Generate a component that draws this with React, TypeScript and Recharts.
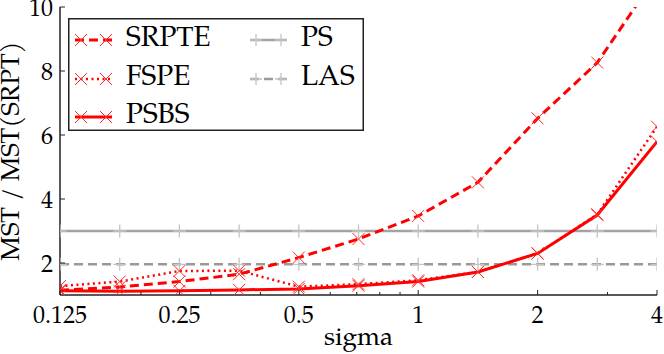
import React from 'react';
import { LineChart, Line, XAxis, YAxis, Legend } from 'recharts';

const sigma = [0.125, 0.1768, 0.25, 0.3536, 0.5, 0.7071, 1, 1.4142, 2, 2.8284, 4];
const srpte = [1.15, 1.25, 1.42, 1.65, 2.17, 2.75, 3.47, 4.52, 6.52, 8.26, 11.0];
const fspe = [1.28, 1.42, 1.75, 1.76, 1.26, 1.34, 1.46, 1.72, 2.3, 3.52, 6.26];
const psbs = [1.13, 1.12, 1.13, 1.16, 1.19, 1.29, 1.42, 1.72, 2.3, 3.5, 5.79];
const ps = [3.0, 3.0, 3.0, 3.0, 3.0, 3.0, 3.0, 3.0, 3.0, 3.0, 3.0];
const las = [1.96, 1.96, 1.96, 1.96, 1.96, 1.96, 1.96, 1.96, 1.96, 1.96, 1.96];

const xMajorTicks = [0.125, 0.25, 0.5, 1, 2, 4];
const xTickLabels = ['0.125', '0.25', '0.5', '1', '2', '4'];
const xMinorTicks = [0.2, 0.3, 0.4, 0.6, 0.7, 0.8, 0.9, 3];
const yTicks = [2, 4, 6, 8, 10];

const FONT = '"TeX Gyre Pagella", "Liberation Serif", serif';
const RED = '#ff0000';
const RED_MARK = '#ff2a2a';
const PS_GREY = '#a3a3a3';
const LAS_GREY = '#999999';
const PLUS_GREY = '#c4c4c4';
const FRAME = '#222222';

const textStyle = (size: number) => ({ fontFamily: FONT, fontSize: size });

const data = sigma.map((s, i) => ({
  sigma: s,
  srpte: srpte[i],
  fspe: fspe[i],
  psbs: psbs[i],
  ps: ps[i],
  las: las[i],
}));

const allXTicks = [...xMajorTicks, ...xMinorTicks].sort((a, b) => a - b);

const xPath = (cx: number, cy: number, s: number) =>
  `M${cx - s},${cy - s}L${cx + s},${cy + s}M${cx - s},${cy + s}L${cx + s},${cy - s}`;
const plusPath = (cx: number, cy: number, s: number) =>
  `M${cx - s},${cy}L${cx + s},${cy}M${cx},${cy - s}L${cx},${cy + s}`;

const makeDot = (kind: 'x' | 'plus', color: string) => (props: any) => {
  const { cx, cy, index } = props;
  if (cx == null || cy == null) return <g key={`e${index}`} />;
  const d = kind === 'x' ? xPath(cx, cy, 6) : plusPath(cx, cy, 6.5);
  return (
    <path
      key={`d${index}`}
      d={d}
      stroke={color}
      strokeWidth={kind === 'x' ? 1 : 1.3}
      fill="none"
    />
  );
};

const BottomTick = (props: any) => {
  const { x, y, payload } = props;
  const idx = xMajorTicks.indexOf(payload.value);
  const major = idx >= 0;
  return (
    <g>
      <line x1={x} y1={y} x2={x} y2={y - (major ? 5 : 3)} stroke={FRAME} strokeWidth={1} />
      {major && (
        <text x={x} y={y + 28} textAnchor="middle" style={textStyle(24)} fill="#000">
          {xTickLabels[idx]}
        </text>
      )}
    </g>
  );
};

const TopTick = (props: any) => {
  const { x, y, payload } = props;
  const major = xMajorTicks.indexOf(payload.value) >= 0;
  return (
    <g>
      <line x1={x} y1={y} x2={x} y2={y + (major ? 5 : 3)} stroke={FRAME} strokeWidth={1} />
    </g>
  );
};

const LeftTick = (props: any) => {
  const { x, y, payload } = props;
  return (
    <g>
      <line x1={x} y1={y} x2={x + 5} y2={y} stroke={FRAME} strokeWidth={1} />
      <text x={x - 7} y={y + 9} textAnchor="end" style={textStyle(24)} fill="#000">
        {String(payload.value)}
      </text>
    </g>
  );
};

const RightTick = (props: any) => {
  const { x, y } = props;
  return (
    <g>
      <line x1={x} y1={y} x2={x - 5} y2={y} stroke={FRAME} strokeWidth={1} />
    </g>
  );
};

const legendItems = [
  { name: 'SRPTE', color: RED, dash: '9 5', width: 3, kind: 'x' as const, col: 0, row: 0 },
  { name: 'FSPE', color: RED, dash: '2 3.5', width: 2.5, kind: 'x' as const, col: 0, row: 1 },
  { name: 'PSBS', color: RED, dash: undefined, width: 3, kind: 'x' as const, col: 0, row: 2 },
  { name: 'PS', color: PS_GREY, dash: undefined, width: 2.5, kind: 'plus' as const, col: 1, row: 0 },
  { name: 'LAS', color: LAS_GREY, dash: '9 5', width: 2.5, kind: 'plus' as const, col: 1, row: 1 },
];

const LegendBox = () => {
  const W = 296;
  const H = 113;
  const rowY = [22, 61, 99];
  const colX = [7, 182];
  return (
    <svg width={W} height={H} style={{ display: 'block' }}>
      <rect x={0.75} y={0.75} width={W - 1.5} height={H - 1.5} fill="#fff" stroke={FRAME} strokeWidth={1.5} />
      {legendItems.map((it) => {
        const x0 = colX[it.col];
        const y = rowY[it.row];
        const markColor = it.kind === 'x' ? RED_MARK : PLUS_GREY;
        const m1 = x0 + 6;
        const m2 = x0 + 31;
        const mk = it.kind === 'x' ? xPath : plusPath;
        return (
          <g key={it.name}>
            <line x1={x0} y1={y} x2={x0 + 37} y2={y} stroke={it.color} strokeWidth={it.width} strokeDasharray={it.dash} />
            <path
              d={mk(m1, y, 6) + mk(m2, y, 6)}
              stroke={markColor}
              strokeWidth={it.kind === 'x' ? 1 : 1.3}
              fill="none"
            />
            <text x={x0 + 51} y={y + 6} style={textStyle(28)} fill="#000">
              {it.name}
            </text>
          </g>
        );
      })}
    </svg>
  );
};

const YLabel = (props: any) => {
  const vb = props.viewBox || { x: 0, y: 7, width: 60, height: 288 };
  const x = vb.x + 13;
  const y = vb.y + vb.height / 2;
  return (
    <text
      x={x}
      y={y}
      transform={`rotate(-90 ${x} ${y})`}
      textAnchor="middle"
      dominantBaseline="central"
      style={textStyle(26)}
      fill="#000"
    >
      MST / MST(SRPT)
    </text>
  );
};

const XLabel = (props: any) => {
  const vb = props.viewBox || { x: 60, y: 295, width: 597, height: 59 };
  const x = vb.x + vb.width / 2;
  const y = vb.y + 50;
  return (
    <text x={x} y={y} textAnchor="middle" style={textStyle(26)} fill="#000">
      sigma
    </text>
  );
};

export default function App() {
  return (
    <div style={{ position: 'absolute', left: 0, top: 0, width: 664, height: 354, background: '#fff' }}>
      <LineChart width={664} height={354} data={data} margin={{ top: 7, right: 7, bottom: 0, left: 0 }}>
        <XAxis
          xAxisId="top"
          orientation="top"
          dataKey="sigma"
          type="number"
          scale="log"
          domain={[0.125, 4]}
          allowDataOverflow
          ticks={allXTicks}
          interval={0}
          height={0}
          tickSize={0}
          tickMargin={0}
          tick={TopTick}
          axisLine={{ stroke: FRAME, strokeWidth: 1.5 }}
          tickLine={false}
        />
        <XAxis
          xAxisId="main"
          dataKey="sigma"
          type="number"
          scale="log"
          domain={[0.125, 4]}
          allowDataOverflow
          ticks={allXTicks}
          interval={0}
          height={59}
          tickSize={0}
          tickMargin={0}
          tick={BottomTick}
          axisLine={{ stroke: FRAME, strokeWidth: 1.5 }}
          tickLine={false}
          label={XLabel}
        />
        <YAxis
          yAxisId="main"
          type="number"
          domain={[1, 10]}
          allowDataOverflow
          ticks={yTicks}
          interval={0}
          width={60}
          tickSize={0}
          tickMargin={0}
          tick={LeftTick}
          axisLine={{ stroke: FRAME, strokeWidth: 1.5 }}
          tickLine={false}
          label={YLabel}
        />
        <YAxis
          yAxisId="right"
          orientation="right"
          type="number"
          domain={[1, 10]}
          allowDataOverflow
          ticks={yTicks}
          interval={0}
          width={0}
          tickSize={0}
          tickMargin={0}
          tick={RightTick}
          axisLine={{ stroke: FRAME, strokeWidth: 1.5 }}
          tickLine={false}
        />
        <Line
          xAxisId="main"
          yAxisId="main"
          dataKey="ps"
          stroke={PS_GREY}
          strokeWidth={2.5}
          dot={makeDot('plus', PLUS_GREY)}
          activeDot={false}
          isAnimationActive={false}
        />
        <Line
          xAxisId="main"
          yAxisId="main"
          dataKey="las"
          stroke={LAS_GREY}
          strokeWidth={2.5}
          strokeDasharray="9 5"
          dot={makeDot('plus', PLUS_GREY)}
          activeDot={false}
          isAnimationActive={false}
        />
        <Line
          xAxisId="main"
          yAxisId="main"
          dataKey="srpte"
          stroke={RED}
          strokeWidth={3}
          strokeDasharray="9 5"
          dot={makeDot('x', RED_MARK)}
          activeDot={false}
          isAnimationActive={false}
        />
        <Line
          xAxisId="main"
          yAxisId="main"
          dataKey="fspe"
          stroke={RED}
          strokeWidth={2.5}
          strokeDasharray="2 3.5"
          dot={makeDot('x', RED_MARK)}
          activeDot={false}
          isAnimationActive={false}
        />
        <Line
          xAxisId="main"
          yAxisId="main"
          dataKey="psbs"
          stroke={RED}
          strokeWidth={3}
          dot={makeDot('x', RED_MARK)}
          activeDot={false}
          isAnimationActive={false}
        />
        <Legend
          layout="horizontal"
          verticalAlign="middle"
          align="center"
          wrapperStyle={{ position: 'absolute', left: 68, top: 18, width: 296, height: 113 }}
          content={() => <LegendBox />}
        />
      </LineChart>
    </div>
  );
}
